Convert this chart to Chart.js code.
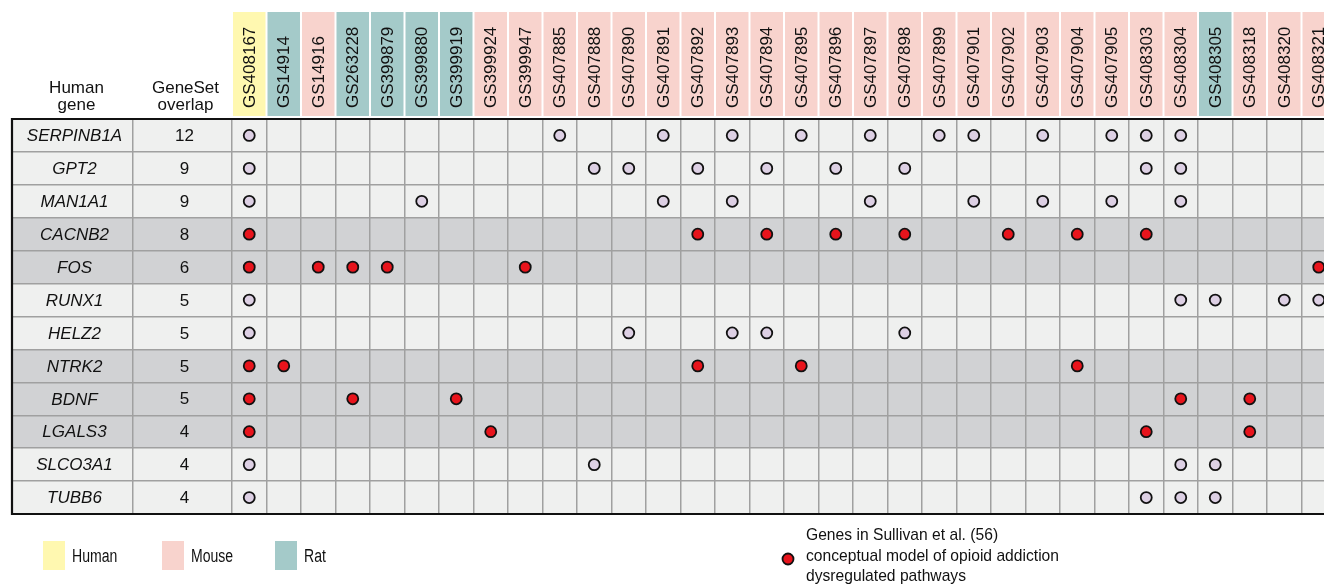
<!DOCTYPE html>
<html>
<head>
<meta charset="utf-8">
<script src="https://cdn.jsdelivr.net/npm/chart.js@4.4.1/dist/chart.umd.min.js"></script>
<style>
  html, body { margin: 0; padding: 0; background: #fff; }
  #wrap { position: relative; width: 1324px; height: 585px; }
</style>
</head>
<body>
<div id="wrap"><canvas id="overlapChart" width="1324" height="585"></canvas></div>
<script>
const genes = ['SERPINB1A', 'GPT2', 'MAN1A1', 'CACNB2', 'FOS', 'RUNX1',
  'HELZ2', 'NTRK2', 'BDNF', 'LGALS3', 'SLCO3A1', 'TUBB6'];
const overlapCounts = [12, 9, 9, 8, 6, 5, 5, 5, 5, 4, 4, 4];
const inSullivan = [false, false, false, true, true, false, false, true, true, true, false, false];

const geneSets = ['GS408167', 'GS14914', 'GS14916', 'GS263228', 'GS399879', 'GS399880',
  'GS399919', 'GS399924', 'GS399947', 'GS407885', 'GS407888', 'GS407890', 'GS407891',
  'GS407892', 'GS407893', 'GS407894', 'GS407895', 'GS407896', 'GS407897', 'GS407898',
  'GS407899', 'GS407901', 'GS407902', 'GS407903', 'GS407904', 'GS407905', 'GS408303',
  'GS408304', 'GS408305', 'GS408318', 'GS408320', 'GS408321'];
const geneSetSpecies = ['Human', 'Rat', 'Mouse', 'Rat', 'Rat', 'Rat',
  'Rat', 'Mouse', 'Mouse', 'Mouse', 'Mouse', 'Mouse', 'Mouse',
  'Mouse', 'Mouse', 'Mouse', 'Mouse', 'Mouse', 'Mouse', 'Mouse',
  'Mouse', 'Mouse', 'Mouse', 'Mouse', 'Mouse', 'Mouse', 'Mouse',
  'Mouse', 'Rat', 'Mouse', 'Mouse', 'Mouse'];

// which gene set columns (index into geneSets) each gene appears in
const hitColumns = [
  [0, 9, 12, 14, 16, 18, 20, 21, 23, 25, 26, 27],
  [0, 10, 11, 13, 15, 17, 19, 26, 27],
  [0, 5, 12, 14, 18, 21, 23, 25, 27],
  [0, 13, 15, 17, 19, 22, 24, 26],
  [0, 2, 3, 4, 8, 31],
  [0, 27, 28, 30, 31],
  [0, 11, 14, 15, 19],
  [0, 1, 13, 16, 24],
  [0, 3, 6, 27, 29],
  [0, 7, 26, 29],
  [0, 10, 27, 28],
  [0, 26, 27, 28]
];

const speciesLegend = ['Human', 'Mouse', 'Rat'];
const speciesColors = { Human: '#fff8b0', Mouse: '#f8d3cd', Rat: '#a4cac9' };
const sullivanNote = ['Genes in Sullivan et al. (56)', 'conceptual model of opioid addiction', 'dysregulated pathways'];

// table geometry (pixels)
const TABLE_LEFT = 12, FIRST_COL_LEFT = 232, SPLIT_COL = 133, COL_W = 34.5, W = 1324;
const xMin = -0.5 - (FIRST_COL_LEFT - TABLE_LEFT) / COL_W;
const xMax = xMin + (W - TABLE_LEFT) / COL_W;
const xSplit = -0.5 - (FIRST_COL_LEFT - SPLIT_COL) / COL_W;

const FONT = '"Liberation Sans", Arial, Helvetica, sans-serif';

const sullivanPts = [], otherPts = [];
hitColumns.forEach((cols, row) => {
  cols.forEach(c => (inSullivan[row] ? sullivanPts : otherPts).push({ x: c, y: row }));
});

function condensedText(ctx, text, x, y, sx) {
  ctx.save();
  ctx.translate(x, y);
  ctx.scale(sx, 1);
  ctx.fillText(text, 0, 0);
  ctx.restore();
}

const tablePlugin = {
  id: 'tablePlugin',
  beforeDraw(chart) {
    const { ctx, chartArea, scales: { y } } = chart;
    ctx.save();
    genes.forEach((g, i) => {
      const top = y.getPixelForValue(i - 0.5), bot = y.getPixelForValue(i + 0.5);
      ctx.fillStyle = inSullivan[i] ? '#d1d2d4' : '#eff0ef';
      ctx.fillRect(chartArea.left, top, chartArea.right - chartArea.left, bot - top);
    });
    ctx.restore();
  },
  afterDraw(chart) {
    const { ctx, chartArea, scales: { x, y } } = chart;
    ctx.save();
    // outer border
    ctx.strokeStyle = '#111';
    ctx.lineWidth = 2.2;
    ctx.beginPath();
    ctx.moveTo(chartArea.right + 2, chartArea.top);
    ctx.lineTo(chartArea.left, chartArea.top);
    ctx.lineTo(chartArea.left, chartArea.bottom);
    ctx.lineTo(chartArea.right + 2, chartArea.bottom);
    ctx.stroke();

    // row labels
    const geneX = (x.getPixelForValue(xMin) + x.getPixelForValue(xSplit)) / 2 + 2;
    const overlapX = (x.getPixelForValue(xSplit) + x.getPixelForValue(-0.5)) / 2 + 2;
    ctx.fillStyle = '#111';
    ctx.textAlign = 'center';
    ctx.textBaseline = 'middle';
    genes.forEach((g, i) => {
      const cy = y.getPixelForValue(i) + 1;
      ctx.font = 'italic 17px ' + FONT;
      ctx.fillText(g, geneX, cy);
      ctx.font = '17px ' + FONT;
      ctx.fillText(String(overlapCounts[i]), overlapX, cy);
    });

    // column headers
    ctx.textBaseline = 'alphabetic';
    ctx.font = '17px ' + FONT;
    ctx.fillText('Human', geneX + 2, 93);
    ctx.fillText('gene', geneX + 2, 110);
    ctx.fillText('GeneSet', overlapX + 1, 93);
    ctx.fillText('overlap', overlapX + 1, 110);

    geneSets.forEach((gs, i) => {
      const l = x.getPixelForValue(i - 0.5), r = x.getPixelForValue(i + 0.5);
      ctx.fillStyle = speciesColors[geneSetSpecies[i]];
      ctx.fillRect(l + 1, 12, r - l - 2, 104);
      ctx.save();
      ctx.translate((l + r) / 2, 108);
      ctx.rotate(-Math.PI / 2);
      ctx.fillStyle = '#111';
      ctx.textAlign = 'left';
      ctx.textBaseline = 'middle';
      ctx.font = '17px ' + FONT;
      ctx.fillText(gs, 0, 1);
      ctx.restore();
    });

    // species legend
    const legendX = [43, 162, 275];
    speciesLegend.forEach((s, i) => {
      ctx.fillStyle = speciesColors[s];
      ctx.fillRect(legendX[i], 541, 22, 29);
      ctx.fillStyle = '#111';
      ctx.textAlign = 'left';
      ctx.textBaseline = 'middle';
      ctx.font = '18px ' + FONT;
      condensedText(ctx, s, legendX[i] + 29, 557, 0.78);
    });

    // Sullivan legend
    ctx.beginPath();
    ctx.arc(788, 559, 5.5, 0, Math.PI * 2);
    ctx.fillStyle = '#e8141c';
    ctx.fill();
    ctx.lineWidth = 1.8;
    ctx.strokeStyle = '#111';
    ctx.stroke();
    ctx.fillStyle = '#111';
    ctx.textAlign = 'left';
    ctx.textBaseline = 'alphabetic';
    ctx.font = '17px ' + FONT;
    sullivanNote.forEach((t, i) => condensedText(ctx, t, 806, 540 + i * 20.5, 0.92));
    ctx.restore();
  }
};

const gridStyle = { color: '#a0a0a0', lineWidth: 1.5, drawTicks: false };

new Chart(document.getElementById('overlapChart'), {
  type: 'scatter',
  data: {
    datasets: [
      {
        label: 'Sullivan et al. genes',
        data: sullivanPts,
        backgroundColor: '#e8141c',
        borderColor: '#111',
        borderWidth: 1.8,
        pointRadius: 5.5,
        pointHoverRadius: 5.5
      },
      {
        label: 'Other genes',
        data: otherPts,
        backgroundColor: '#ddd0e4',
        borderColor: '#111',
        borderWidth: 1.8,
        pointRadius: 5.5,
        pointHoverRadius: 5.5
      }
    ]
  },
  options: {
    responsive: false,
    animation: false,
    layout: { autoPadding: false, padding: { top: 119, left: TABLE_LEFT, right: 0, bottom: 71 } },
    scales: {
      x: {
        type: 'linear',
        min: xMin,
        max: xMax,
        grid: gridStyle,
        border: { display: false },
        ticks: { display: false },
        afterBuildTicks(scale) {
          const t = [xSplit];
          for (let i = 0; i <= geneSets.length; i++) {
            if (i - 0.5 < xMax) t.push(i - 0.5);
          }
          scale.ticks = t.map(v => ({ value: v }));
        }
      },
      y: {
        type: 'linear',
        min: -0.5,
        max: genes.length - 0.5,
        reverse: true,
        grid: gridStyle,
        border: { display: false },
        ticks: { display: false },
        afterBuildTicks(scale) {
          const t = [];
          for (let i = 1; i < genes.length; i++) t.push(i - 0.5);
          scale.ticks = t.map(v => ({ value: v }));
        }
      }
    },
    plugins: {
      legend: { display: false },
      tooltip: { enabled: false }
    }
  },
  plugins: [tablePlugin]
});
</script>
</body>
</html>
